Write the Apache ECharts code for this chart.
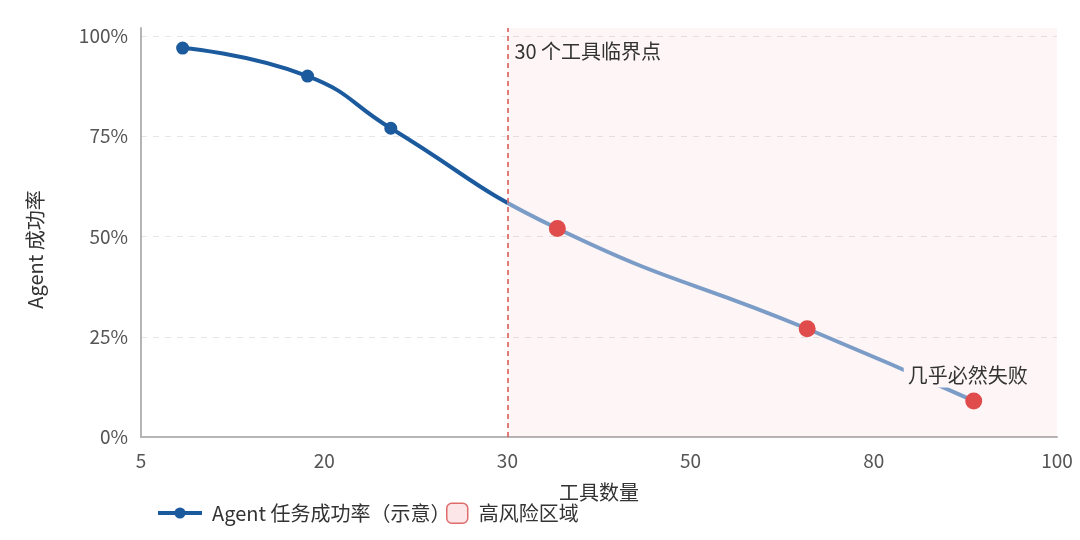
<!DOCTYPE html>
<html>
<head>
<meta charset="utf-8">
<script src="https://cdn.jsdelivr.net/npm/echarts@6/dist/echarts.min.js"></script>
<style>
html,body{margin:0;padding:0;background:#fff;}
#chart{width:1080px;height:540px;}
</style>
</head>
<body>
<div id="chart"></div>
<script>
// ---- data ----
const X_LABELS = ['5', '20', '30', '50', '80', '100'];
const TOOL_COUNTS = [5, 20, 30, 50, 80, 100];
const SUCCESS_RATE = [0.97, 0.90, 0.77, 0.52, 0.27, 0.09];
const RISK_START = '30';
const SERIES_NAME = 'Agent 任务成功率（示意）';
const RISK_NAME = '高风险区域';
const THRESHOLD_TEXT = '30 个工具临界点';
const FAIL_TEXT = '几乎必然失败';
const X_NAME = '工具数量';
const Y_NAME = 'Agent 成功率';

// ---- derived ----
const FONT = '"Noto Sans CJK SC", "Noto Sans", sans-serif';
const X_MAX = 110;
const points = TOOL_COUNTS.map((x, i) => [x, SUCCESS_RATE[i]]);
const riskBoundary = X_MAX * X_LABELS.indexOf(RISK_START) / (X_LABELS.length - 1);
const riskPoints = points.filter(p => p[0] > riskBoundary).map((p, i, arr) => {
  if (i === arr.length - 1) {
    return {
      value: p,
      label: {
        show: true, formatter: FAIL_TEXT, position: 'top', distance: 5, offset: [-6, 0],
        color: '#333', fontSize: 20, fontFamily: FONT,
        backgroundColor: '#fdf5f6', padding: [2, 4]
      }
    };
  }
  return p;
});

const DARK = '#1c5a9e';
const LIGHT = '#7b9cc6';
const RED = '#e04b4b';

const chart = echarts.init(document.getElementById('chart'), null, {renderer: 'canvas'});
chart.setOption({
  backgroundColor: '#fff',
  textStyle: {fontFamily: FONT},
  animation: false,
  grid: {left: 141, right: 23, top: 28, bottom: 103, containLabel: false},
  xAxis: [
    {
      type: 'category', data: X_LABELS, boundaryGap: false,
      name: X_NAME, nameLocation: 'middle', nameGap: 45,
      nameTextStyle: {color: '#333', fontSize: 20, fontFamily: FONT},
      axisLine: {lineStyle: {color: '#b5b5b5', width: 2}},
      axisTick: {show: false},
      axisLabel: {color: '#555', fontSize: 19, margin: 14, fontFamily: FONT},
      splitLine: {show: false}
    },
    {
      type: 'value', min: 0, max: X_MAX, show: false,
      splitLine: {show: false}
    }
  ],
  yAxis: {
    type: 'value', min: 0, max: 1.02, interval: 0.25,
    name: Y_NAME, nameLocation: 'middle', nameGap: 96,
    nameTextStyle: {color: '#333', fontSize: 20, fontFamily: FONT, padding: [0, 34, 0, 0]},
    axisLine: {show: true, lineStyle: {color: '#b5b5b5', width: 2}},
    axisTick: {show: false},
    axisLabel: {
      color: '#555', fontSize: 19, margin: 13, fontFamily: FONT, showMaxLabel: false,
      formatter: v => Math.round(v * 100) + '%'
    },
    splitLine: {showMaxLine: false, lineStyle: {color: '#e6e6e6', type: [6, 6], width: 1}}
  },
  visualMap: {
    type: 'piecewise', show: false, dimension: 0, seriesIndex: 0,
    pieces: [
      {gte: 0, lt: riskBoundary, color: DARK},
      {gte: riskBoundary, lte: X_MAX, color: LIGHT}
    ]
  },
  legend: [
    {
      left: 151, bottom: 12, itemWidth: 44, itemHeight: 14, itemGap: 4,
      textStyle: {color: '#333', fontSize: 20, fontFamily: FONT, padding: [0, 0, 0, 5]},
      data: [{name: SERIES_NAME, itemStyle: {color: DARK},
              lineStyle: {color: DARK, width: 4}}]
    },
    {
      left: 441, bottom: 11, itemWidth: 21, itemHeight: 20,
      textStyle: {color: '#333', fontSize: 20, fontFamily: FONT, padding: [0, 0, 0, 6]},
      data: [{name: RISK_NAME, icon: 'roundRect',
              itemStyle: {color: '#fde6e7', borderColor: '#e06b6b', borderWidth: 1.5}}]
    }
  ],
  series: [
    {
      name: SERIES_NAME, type: 'line', xAxisIndex: 1, data: points,
      smooth: true, symbol: 'circle', symbolSize: 13, z: 3,
      lineStyle: {width: 4},
      itemStyle: {color: DARK}
    },
    {
      name: 'risk-points', type: 'scatter', xAxisIndex: 1, data: riskPoints,
      symbolSize: 17, z: 5,
      itemStyle: {color: RED, opacity: 1}
    },
    {
      name: RISK_NAME, type: 'line', xAxisIndex: 0, data: [],
      itemStyle: {color: '#fde6e7'},
      markArea: {
        silent: true,
        itemStyle: {color: 'rgba(220, 60, 70, 0.05)'},
        label: {
          show: true, position: 'insideTopLeft', distance: 7, offset: [0, 6],
          color: '#333', fontSize: 20, fontFamily: FONT
        },
        data: [[{xAxis: RISK_START, name: THRESHOLD_TEXT}, {xAxis: X_LABELS[X_LABELS.length - 1]}]]
      },
      markLine: {
        silent: true, symbol: ['none', 'none'],
        lineStyle: {color: '#d9534f', type: [5, 4], width: 1.5},
        label: {show: false},
        data: [{xAxis: RISK_START}]
      }
    }
  ]
});
</script>
</body>
</html>
